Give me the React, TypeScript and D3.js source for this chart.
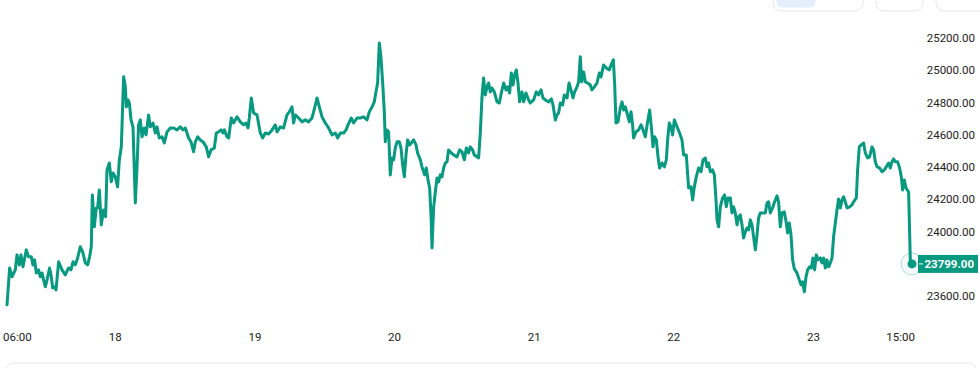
import React from 'react';
import * as d3 from 'd3';

// price history, hours counted from Feb 17 00:00
const hours = [
  5.38, 5.83, 6.24, 6.81, 7.10, 7.50, 7.79, 8.13, 8.70, 9.09,
  9.56, 9.85, 10.13, 10.42, 10.81, 11.11, 11.40, 11.67, 11.97, 12.26,
  12.70, 13.00, 13.22, 13.56, 13.81, 14.25, 14.84, 15.40, 15.97, 16.38,
  16.73, 17.12, 17.52, 17.98, 18.38, 18.84, 19.24, 19.58, 19.87, 20.05,
  20.39, 20.73, 20.96, 21.25, 21.59, 21.99, 22.33, 22.57, 22.97, 23.31,
  23.60, 24.00, 24.39, 24.69, 25.03, 25.43, 25.72, 25.89, 26.18, 26.41,
  26.70, 27.04, 27.44, 27.73, 28.00, 28.30, 28.59, 28.98, 29.28, 29.72,
  30.02, 30.48, 30.87, 31.17, 31.56, 32.03, 32.42, 32.89, 33.45, 34.02,
  34.61, 35.17, 35.64, 36.03, 36.60, 37.01, 37.46, 37.75, 38.15, 38.61,
  39.07, 39.64, 40.04, 40.45, 41.02, 41.36, 41.76, 42.17, 42.51, 42.74,
  43.20,
  43.48, 43.94, 44.33, 44.92, 45.49, 46.05, 46.47, 46.81, 47.03, 47.38,
  47.77, 48.36, 48.92, 49.32, 49.78, 50.35, 50.94, 51.50, 51.80, 52.36,
  52.93, 53.51, 53.91, 54.37, 54.65, 54.94, 55.51, 56.09, 56.66, 57.23,
  57.81, 58.26, 58.67, 59.07, 59.53, 60.10, 60.67, 61.25, 61.82, 62.21,
  62.68, 63.24, 63.66, 64.00, 64.57, 64.96, 65.55, 66.11, 66.68, 67.27,
  67.66, 68.13, 68.52, 68.81, 69.09, 69.38, 69.67, 69.95, 70.24, 70.41,
  70.70, 70.98, 71.27, 71.56, 71.84, 72.13, 72.42, 72.82, 73.11, 73.39,
  73.68, 73.97, 74.25, 74.59, 74.88, 75.28, 75.69, 75.96, 76.43, 76.72,
  77.17, 77.46, 77.75, 78.03, 78.27, 78.44, 78.71, 79.01, 79.30, 79.57,
  79.87, 80.16, 80.43, 80.73, 81.02, 81.29, 81.76,
  82.15, 82.74, 83.18, 83.60, 83.99, 84.34, 84.73, 85.02, 85.42, 85.71,
  86.18, 86.45, 86.74, 87.03, 87.31, 87.60, 87.89, 88.17, 88.46, 88.75,
  89.15, 89.61, 90.01, 90.35, 90.75, 91.16, 91.44, 91.78, 92.07, 92.36,
  92.64, 92.93, 93.22, 93.50, 93.91, 94.19, 94.60, 95.05, 95.34, 95.90,
  96.37, 96.76, 97.18, 97.52, 97.92, 98.48, 98.95, 99.24, 99.64, 99.93,
  100.20, 100.49, 100.89, 101.18, 101.65, 101.99, 102.33, 102.68, 102.95, 103.37,
  103.64, 103.93, 104.16, 104.50, 104.79, 105.19, 105.65, 105.94, 106.34, 106.80,
  107.20, 107.49, 107.94, 108.40, 108.92, 109.21, 109.61, 109.83, 110.07, 110.41,
  110.81, 111.10, 111.38, 111.67, 111.96, 112.36, 112.65, 112.92, 113.09, 113.51,
  113.95, 114.37, 114.71, 115.11, 115.50, 115.85, 116.14, 116.43, 116.70, 117.00,
  117.29, 117.56, 117.98, 118.37, 118.72, 118.94, 119.23, 119.52, 119.80, 120.09,
  120.56, 121.00,
  121.41, 121.69, 122.15, 122.55, 122.96, 123.24, 123.53, 123.87, 124.27, 124.68,
  125.02, 125.42, 125.71, 125.99, 126.28, 126.67, 126.97, 127.26, 127.43, 127.71,
  128.00, 128.39, 128.74, 129.03, 129.32, 129.72, 130.01, 130.28, 130.58, 130.87,
  131.14, 131.44, 131.73, 132.00, 132.30, 132.59, 132.86, 133.16, 133.45, 133.72,
  134.02, 134.31, 134.58, 134.87, 135.34, 135.73, 136.03, 136.30, 136.59, 136.99,
  137.33, 137.75, 138.02, 138.31, 138.60, 139.00, 139.34, 139.57, 139.86, 140.15,
  140.43, 140.72, 141.18, 141.58, 141.87, 142.15, 142.44, 142.73, 143.01, 143.35,
  143.64, 143.93, 144.21, 144.50, 144.79, 145.19, 145.48, 145.76, 146.05, 146.34,
  146.62, 146.91, 147.20, 147.47, 147.77, 148.06, 148.33, 148.63, 148.92, 149.19,
  149.49, 149.78, 150.23, 150.64, 150.91, 151.38, 151.60, 151.89, 152.24, 152.63,
  152.92, 153.32, 153.66, 154.08, 154.35, 154.64, 154.94, 155.38, 155.79, 156.19,
  156.53, 156.93, 157.22, 157.51, 157.79, 158.08, 158.48, 158.82, 159.11, 159.34,
  159.63, 159.92, 160.37, 160.66, 160.95,
];

const prices = [
  23545, 23774, 23719, 23762, 23855, 23793, 23855, 23781, 23886, 23843,
  23843, 23793, 23824, 23743, 23762, 23719, 23743, 23700, 23657, 23700,
  23774, 23719, 23650, 23657, 23638, 23812, 23762, 23731, 23774, 23762,
  23812, 23793, 23836, 23905, 23874, 23805, 23793, 23843, 23905, 24227,
  24029, 24146, 24146, 24258, 24041, 24134, 24091, 24382, 24425, 24308,
  24363, 24339, 24277, 24444, 24525, 24959, 24897, 24773, 24816, 24797,
  24692, 24649, 24177, 24401, 24661, 24692, 24587, 24642, 24599, 24723,
  24649, 24673, 24611, 24649, 24580, 24587, 24549, 24618, 24642, 24642,
  24630, 24649, 24630, 24642, 24580, 24556, 24494, 24556, 24587, 24568,
  24556, 24525, 24463, 24506, 24518, 24611, 24618, 24630, 24611, 24630,
  24587,
  24580, 24704, 24673, 24711, 24680, 24661, 24673, 24642, 24704, 24828,
  24735, 24723, 24611, 24580, 24611, 24605, 24630, 24661, 24618, 24649,
  24642, 24723, 24742, 24773, 24673, 24723, 24704, 24680, 24692, 24680,
  24704, 24766, 24828, 24773, 24711, 24673, 24642, 24599, 24611, 24580,
  24611, 24611, 24630, 24661, 24704, 24673, 24704, 24704, 24711, 24692,
  24742, 24773, 24804, 24866, 24921, 25169, 25076, 24928, 24742, 24556,
  24630, 24618, 24351, 24456, 24444, 24518, 24556, 24556, 24518, 24413,
  24339, 24475, 24568, 24537, 24549, 24568, 24537, 24487, 24444, 24401,
  24351, 24394, 24320, 24270, 24103, 23898, 24146, 24246, 24332, 24308,
  24351, 24339, 24394, 24425, 24432, 24506, 24487,
  24475, 24463, 24506, 24494, 24444, 24518, 24487, 24525, 24506, 24475,
  24463, 24456, 24611, 24835, 24952, 24847, 24897, 24921, 24866, 24890,
  24866, 24804, 24797, 24859, 24921, 24878, 24897, 24859, 24983, 24909,
  24971, 25002, 24921, 24804, 24866, 24804, 24859, 24816, 24797, 24816,
  24866, 24847, 24878, 24828, 24816, 24804, 24822, 24785, 24692, 24723,
  24735, 24797, 24785, 24847, 24828, 24921, 24878, 24828, 24866, 24897,
  24928, 25083, 24928, 24990, 24928, 24921, 24909, 24878, 24897, 24921,
  24983, 24959, 25033, 25014, 25002, 25033, 25064, 24921, 24673, 24680,
  24766, 24804, 24754, 24773, 24735, 24680, 24742, 24661, 24580, 24618,
  24630, 24661, 24630, 24587, 24680, 24754, 24649, 24525, 24587, 24568,
  24463, 24394, 24425, 24401, 24444, 24568, 24673, 24649, 24599, 24692,
  24649, 24611,
  24568, 24475, 24475, 24270, 24277, 24196, 24277, 24339, 24394, 24370,
  24444, 24456, 24401, 24425, 24370, 24382, 24351, 24196, 24072, 24029,
  24153, 24208, 24227, 24153, 24208, 24208, 24115, 24153, 24115, 24041,
  24091, 24103, 24041, 23960, 23998, 24022, 24010, 24072, 24041, 23967,
  23886, 23979, 24084, 24115, 24115, 24115, 24177, 24184, 24115, 24146,
  24184, 24221, 24184, 24029, 24115, 24122, 24053, 23991, 24053, 23979,
  23824, 23768, 23743, 23700, 23669, 23688, 23626, 23719, 23762, 23781,
  23774, 23836, 23762, 23855, 23824, 23836, 23805, 23836, 23774, 23824,
  23781, 23805, 23836, 23967, 24053, 24134, 24202, 24146, 24196, 24215,
  24184, 24146, 24153, 24165, 24184, 24208, 24382, 24525, 24537, 24549,
  24487, 24456, 24463, 24525, 24506, 24432, 24401, 24394, 24370, 24382,
  24401, 24425, 24394, 24432, 24450, 24432, 24432, 24394, 24339, 24258,
  24320, 24270, 24245, 23824, 23799,
];

const priceTicks = [23600, 23800, 24000, 24200, 24400, 24600, 24800, 25000, 25200];
const timeTicks = [6, 24, 48, 72, 96, 120, 144, 159];
const timeLabels = ['06:00', '18', '19', '20', '21', '22', '23', '15:00'];

const width = 980;
const height = 368;
const green = '#089981';
const font = 'Roboto, "Liberation Sans", sans-serif';

export default function App() {
  const n = Math.min(hours.length, prices.length);
  const data = d3.range(n).map(i => ({ h: hours[i], p: prices[i] }));
  const last = data[n - 1];

  const x = d3.scaleLinear()
    .domain([hours[0], last.h])
    .range([7, 912]);
  const y = d3.scaleLinear()
    .domain([23600, 25200])
    .range([296, 38]);

  const line = d3.line<{ h: number; p: number }>()
    .x(d => x(d.h))
    .y(d => y(d.p))
    .curve(d3.curveLinear);

  const lastY = y(last.p);
  // hide axis labels that would sit under the current-price tag
  const shownPrices = priceTicks.filter(t => Math.abs(y(t) - lastY) > 14);

  return (
    <div style={{ position: 'fixed', left: 0, top: 0 }}>
      <svg width={width} height={height} style={{ display: 'block', background: '#fff' }}>
        {/* top toolbar buttons, clipped by the frame */}
        <rect x={773} y={-14} width={90} height={25} rx={8} fill="#fff" stroke="#e3e6ec" />
        <rect x={776.5} y={-12} width={39} height={19.5} rx={6} fill="#e4eefd" />
        <rect x={876} y={-14} width={47} height={25} rx={8} fill="#fff" stroke="#e3e6ec" />
        <rect x={936} y={-14} width={60} height={25} rx={8} fill="#fff" stroke="#e3e6ec" />

        {/* bottom panel edge */}
        <rect x={5} y={363} width={972} height={30} rx={9} fill="#fff" stroke="#e3e6ec" />

        <path d={line(data) || ''} fill="none" stroke={green} strokeWidth={3}
          strokeLinejoin="round" strokeLinecap="round" />

        {/* y axis labels */}
        <g fontFamily={font} fontSize={11.5} fill="#222" textAnchor="end">
          {shownPrices.map(t => (
            <text key={t} x={975} y={y(t)} dominantBaseline="central">{t.toFixed(2)}</text>
          ))}
        </g>

        {/* x axis labels */}
        <g fontFamily={font} fontSize={11.5} fill="#222">
          {timeTicks.map((t, i) => {
            const px = x(t);
            const startAligned = px < 18;
            return (
              <text key={t} x={startAligned ? 3 : px} y={337}
                textAnchor={startAligned ? 'start' : 'middle'} dominantBaseline="central">
                {timeLabels[i]}
              </text>
            );
          })}
        </g>

        {/* current price marker */}
        <circle cx={x(last.h)} cy={lastY} r={11} fill="rgba(8,153,129,0.04)"
          stroke="rgba(8,153,129,0.3)" strokeWidth={1} />
        <circle cx={x(last.h)} cy={lastY} r={4.5} fill={green} />
        <rect x={918} y={lastY - 9} width={60} height={18} fill={green} />
        <line x1={919} x2={923} y1={lastY} y2={lastY} stroke="#fff" strokeWidth={1} />
        <text x={974} y={lastY} textAnchor="end" dominantBaseline="central"
          fontFamily={font} fontSize={11.5} fontWeight={700} fill="#fff">
          {last.p.toFixed(2)}
        </text>
      </svg>
    </div>
  );
}
